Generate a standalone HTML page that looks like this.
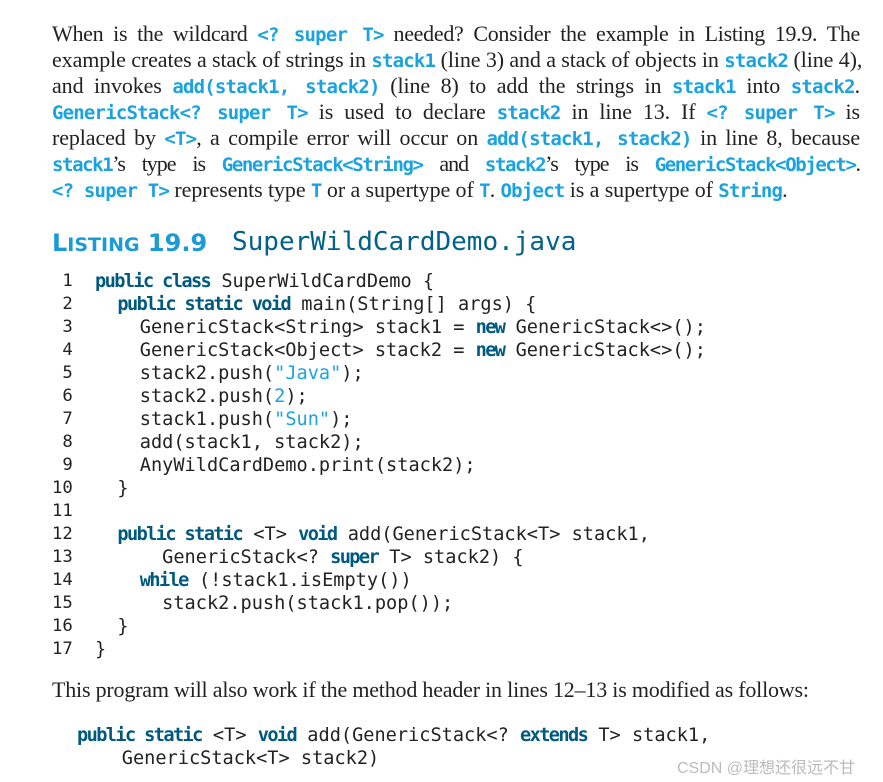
<!DOCTYPE html>
<html><head><meta charset="utf-8"><style>
body{margin:0;width:883px;height:782px;background:#fff;position:relative;overflow:hidden}
.p{position:absolute;left:52px;width:808px;font-family:"Liberation Serif",serif;font-size:22px;line-height:26px;color:#222;white-space:nowrap;text-align:justify;text-align-last:justify;letter-spacing:-0.1px}
.c{font-family:"DejaVu Sans Mono",monospace;font-weight:bold;color:#1aa3e0;font-size:19px;letter-spacing:-0.8px}
.ln{position:absolute;font-family:"DejaVu Sans Mono",monospace;font-size:18.6px;line-height:23px;color:#222;white-space:pre}
.k{color:#005a80;font-weight:bold;letter-spacing:-1.6px}
.s{color:#1aa3e0}
</style></head><body>
<div class="p" style="top:21px;letter-spacing:-0.3px">When is the wildcard <span class="c">&lt;? super T&gt;</span> needed? Consider the example in Listing 19.9. The</div>
<div class="p" style="top:47px">example creates a stack of strings in <span class="c">stack1</span> (line 3) and a stack of objects in <span class="c">stack2</span> (line 4),</div>
<div class="p" style="top:73px">and invokes <span class="c">add(stack1, stack2)</span> (line 8) to add the strings in <span class="c">stack1</span> into <span class="c">stack2</span>.</div>
<div class="p" style="top:99px"><span class="c">GenericStack&lt;? super T&gt;</span> is used to declare <span class="c">stack2</span> in line 13. If <span class="c">&lt;? super T&gt;</span> is</div>
<div class="p" style="top:125px">replaced by <span class="c">&lt;T&gt;</span>, a compile error will occur on <span class="c">add(stack1, stack2)</span> in line 8, because</div>
<div class="p" style="top:151px;letter-spacing:-1px"><span class="c" style="letter-spacing:-1.4px">stack1</span>’s type is <span class="c" style="letter-spacing:-1.4px">GenericStack&lt;String&gt;</span> and <span class="c" style="letter-spacing:-1.4px">stack2</span>’s type is <span class="c" style="letter-spacing:-1.4px">GenericStack&lt;Object&gt;</span>.</div>
<div class="p" style="top:177px;text-align-last:left"><span class="c">&lt;? super T&gt;</span> represents type <span class="c">T</span> or a supertype of <span class="c">T</span>. <span class="c">Object</span> is a supertype of <span class="c">String</span>.</div>

<div style="position:absolute;left:52px;top:227px;white-space:nowrap;line-height:32px">
<span style="font-family:'DejaVu Sans',sans-serif;font-weight:bold;color:#1a9ad6;font-size:24px">L<span style="font-size:19px">ISTING</span> 19.9</span>
</div>
<div style="position:absolute;left:232px;top:226px;white-space:nowrap;line-height:32px;font-family:'DejaVu Sans Mono',monospace;font-size:26px;color:#00628a">SuperWildCardDemo.java</div>

<div class="ln" style="left:52px;top:270px;font-size:17.3px"> 1
 2
 3
 4
 5
 6
 7
 8
 9
10
11
12
13
14
15
16
17</div>
<div class="ln" style="left:95px;top:270px"><span class="k">public class</span> SuperWildCardDemo {
  <span class="k">public static void</span> main(String[] args) {
    GenericStack&lt;String&gt; stack1 = <span class="k">new</span> GenericStack&lt;&gt;();
    GenericStack&lt;Object&gt; stack2 = <span class="k">new</span> GenericStack&lt;&gt;();
    stack2.push(<span class="s">"Java"</span>);
    stack2.push(<span class="s">2</span>);
    stack1.push(<span class="s">"Sun"</span>);
    add(stack1, stack2);
    AnyWildCardDemo.print(stack2);
  }

  <span class="k">public static</span> &lt;T&gt; <span class="k">void</span> add(GenericStack&lt;T&gt; stack1,
      GenericStack&lt;? <span class="k">super</span> T&gt; stack2) {
    <span class="k">while</span> (!stack1.isEmpty())
      stack2.push(stack1.pop());
  }
}</div>

<div class="p" style="top:677px;text-align-last:left;letter-spacing:-0.2px">This program will also work if the method header in lines 12–13 is modified as follows:</div>

<div class="ln" style="left:77px;top:724px"><span class="k">public static</span> &lt;T&gt; <span class="k">void</span> add(GenericStack&lt;? <span class="k">extends</span> T&gt; stack1,
    GenericStack&lt;T&gt; stack2)</div>

<div style="position:absolute;left:677px;top:754px;font-family:'Liberation Sans','Noto Sans CJK SC',sans-serif;font-size:16px;color:#bbb;white-space:nowrap">CSDN @理想还很远不甘</div>
</body></html>
